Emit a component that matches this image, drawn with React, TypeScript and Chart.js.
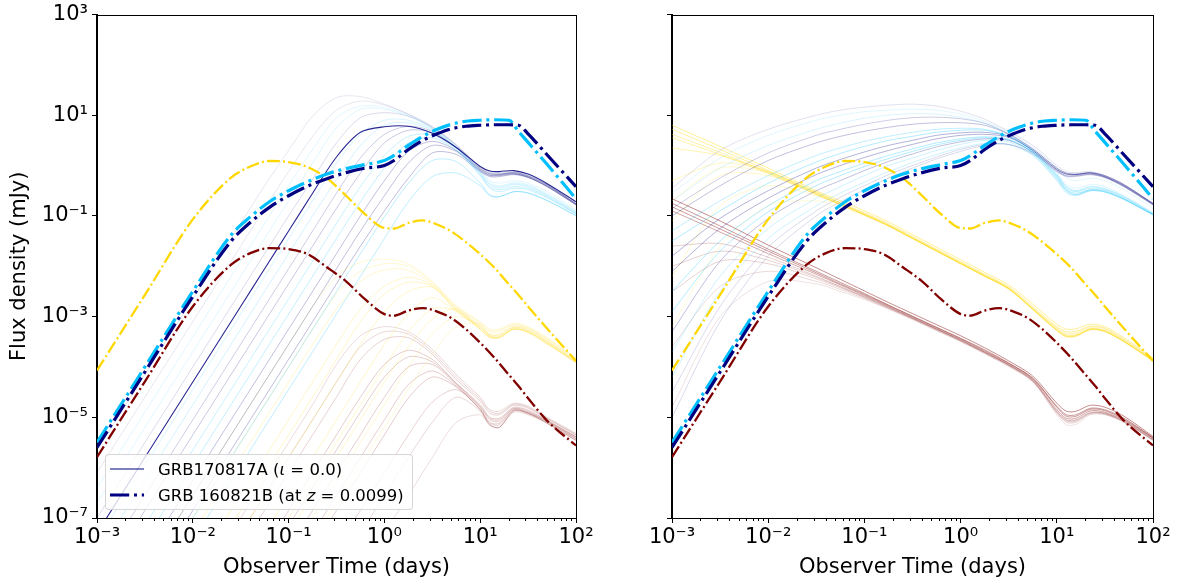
import React, { useEffect, useRef } from 'react';
import { Chart, registerables } from 'chart.js';

Chart.register(...registerables);

const FONT = "'DejaVu Sans', 'Liberation Sans', sans-serif";
const NAVY = '#000080';
const CYAN = '#00bfff';
const GOLD = '#ffd700';
const MAROON = '#800000';

// ---- axis ticks ----
const X_TICKS = [1e-3, 1e-2, 1e-1, 1, 10, 100];
const X_TICK_LABELS = ['10⁻³', '10⁻²', '10⁻¹', '10⁰', '10¹', '10²'];
const X_MINOR_MULTIPLIERS = [2, 3, 4, 5, 6, 7, 8, 9];
const Y_TICKS = [1e-7, 1e-5, 1e-3, 1e-1, 10, 1000];
const Y_TICK_LABELS = ['10⁻⁷', '10⁻⁵', '10⁻³', '10⁻¹', '10¹', '10³'];

// ---- GRB 160821B (at z = 0.0099): observer time (days) and log10 flux density (mJy) ----
const T_GRB160821B = [0.001, 0.00316, 0.01, 0.0251, 0.0398, 0.0631, 0.1, 0.158, 0.251, 0.398, 0.631, 1, 1.26, 1.78, 2.51, 3.55, 5.01, 7.08, 10, 14.1, 20, 25.1, 31.6, 50.1, 100];
const GRB160821B_NAVY = [-5.6, -4.1, -2.6, -1.5, -1.13, -0.83, -0.6, -0.41, -0.26, -0.14, -0.05, 0.0, 0.1, 0.32, 0.5, 0.63, 0.73, 0.78, 0.8, 0.81, 0.81, 0.8, 0.63, 0.21, -0.42];
const GRB160821B_CYAN = [-5.5, -4.0, -2.5, -1.38, -1.02, -0.72, -0.5, -0.32, -0.17, -0.06, 0.02, 0.1, 0.2, 0.4, 0.58, 0.72, 0.82, 0.88, 0.9, 0.91, 0.9, 0.68, 0.46, 0.02, -0.66];
const GRB160821B_GOLD = [-4.07, -2.57, -1.07, -0.24, -0.02, 0.09, 0.07, -0.03, -0.25, -0.6, -0.97, -1.24, -1.25, -1.14, -1.09, -1.17, -1.31, -1.52, -1.76, -2.03, -2.36, -2.57, -2.8, -3.24, -3.88];
const GRB160821B_MAROON = [-5.79, -4.29, -2.8, -1.97, -1.74, -1.64, -1.66, -1.76, -2.02, -2.3, -2.66, -2.95, -2.98, -2.88, -2.83, -2.9, -3.03, -3.25, -3.52, -3.82, -4.16, -4.38, -4.62, -5.07, -5.56];

// ---- GRB170817A-like model ensembles: time grid (days) and log10 flux density (mJy) ----
const T_MODEL = [0.001, 0.00316, 0.01, 0.0316, 0.0562, 0.1, 0.178, 0.316, 0.562, 1, 1.78, 3.16, 5.62, 10, 12.6, 15.8, 22.4, 31.6, 50.1, 100];

const GRB170817A_IOTA0 = [-7.3, -5.8, -4.3, -2.8, -2.05, -1.3, -0.55, 0.17, 0.66, 0.77, 0.78, 0.64, 0.36, -0.02, -0.11, -0.12, -0.1, -0.17, -0.36, -0.72];

const LEFT_BLUE = [
  [-5.65, -4.15, -2.65, -1.15, -0.4, 0.3, 0.98, 1.35, 1.37, 1.22, 1.02, 0.78, 0.42, -0.02, -0.12, -0.14, -0.12, -0.2, -0.38, -0.76],
  [-6.1, -4.6, -3.1, -1.6, -0.85, -0.12, 0.58, 1.1, 1.28, 1.2, 1.02, 0.77, 0.41, -0.04, -0.14, -0.16, -0.13, -0.2, -0.38, -0.76],
  [-6.4, -4.9, -3.4, -1.9, -1.15, -0.4, 0.32, 0.95, 1.18, 1.15, 1.0, 0.75, 0.38, -0.1, -0.3, -0.35, -0.3, -0.35, -0.52, -0.88],
  [-6.7, -5.2, -3.7, -2.2, -1.45, -0.7, 0.05, 0.75, 1.12, 1.12, 0.98, 0.74, 0.38, -0.12, -0.33, -0.4, -0.34, -0.38, -0.56, -0.9],
  [-7.0, -5.5, -4.0, -2.5, -1.75, -1.0, -0.27, 0.45, 0.95, 1.05, 0.98, 0.75, 0.4, -0.05, -0.15, -0.17, -0.14, -0.2, -0.38, -0.75],
  [-7.45, -5.95, -4.45, -2.95, -2.2, -1.45, -0.7, 0.05, 0.62, 0.9, 0.9, 0.72, 0.36, -0.14, -0.36, -0.42, -0.36, -0.4, -0.58, -0.92],
  [-7.75, -6.25, -4.75, -3.25, -2.5, -1.75, -1.0, -0.28, 0.4, 0.8, 0.85, 0.7, 0.35, -0.15, -0.38, -0.45, -0.38, -0.42, -0.6, -0.93],
  [-8.05, -6.55, -5.05, -3.55, -2.8, -2.05, -1.3, -0.55, 0.15, 0.62, 0.78, 0.68, 0.36, -0.06, -0.16, -0.17, -0.14, -0.21, -0.39, -0.76],
  [-8.35, -6.85, -5.35, -3.85, -3.1, -2.35, -1.6, -0.85, -0.15, 0.45, 0.7, 0.65, 0.35, -0.07, -0.17, -0.18, -0.15, -0.22, -0.4, -0.76],
  [-8.65, -7.15, -5.65, -4.15, -3.4, -2.65, -1.9, -1.15, -0.42, 0.2, 0.58, 0.6, 0.32, -0.18, -0.42, -0.48, -0.42, -0.45, -0.62, -0.95],
  [-8.95, -7.45, -5.95, -4.45, -3.7, -2.95, -2.2, -1.45, -0.72, -0.05, 0.45, 0.55, 0.3, -0.2, -0.45, -0.52, -0.45, -0.48, -0.64, -0.96],
  [-9.25, -7.75, -6.25, -4.75, -4.0, -3.25, -2.5, -1.75, -1.0, -0.3, 0.28, 0.48, 0.3, -0.09, -0.19, -0.19, -0.16, -0.23, -0.41, -0.77],
  [-9.55, -8.05, -6.55, -5.05, -4.3, -3.55, -2.8, -2.05, -1.3, -0.6, 0.05, 0.4, 0.28, -0.1, -0.2, -0.2, -0.17, -0.23, -0.42, -0.78],
  [-9.85, -8.35, -6.85, -5.35, -4.6, -3.85, -3.1, -2.35, -1.6, -0.9, -0.25, 0.25, 0.22, -0.12, -0.22, -0.22, -0.18, -0.24, -0.42, -0.78],
  [-10.0, -8.5, -7.0, -5.5, -4.75, -4.0, -3.25, -2.5, -1.75, -1.02, -0.35, 0.1, 0.08, -0.35, -0.58, -0.62, -0.52, -0.54, -0.69, -0.99],
  [-10.45, -8.95, -7.45, -5.95, -5.2, -4.45, -3.7, -2.95, -2.2, -1.45, -0.72, -0.22, -0.15, -0.4, -0.6, -0.62, -0.52, -0.55, -0.7, -1.0],
];
const LEFT_BLUE_COLORS = [NAVY, NAVY, CYAN, CYAN, NAVY, CYAN, CYAN, NAVY, NAVY, CYAN, CYAN, NAVY, NAVY, NAVY, CYAN, CYAN];
const LEFT_BLUE_ALPHAS = [0.1, 0.1, 0.12, 0.12, 0.15, 0.16, 0.18, 0.2, 0.22, 0.22, 0.24, 0.25, 0.25, 0.26, 0.26, 0.26];

const LEFT_GOLD = [
  [-9.55, -8.05, -6.55, -5.05, -4.3, -3.55, -2.8, -2.2, -1.92, -1.86, -1.95, -2.3, -2.78, -3.1, -3.25, -3.25, -3.13, -3.2, -3.42, -3.82],
  [-10.0, -8.5, -7.0, -5.5, -4.75, -4.0, -3.25, -2.55, -2.1, -1.95, -2.0, -2.32, -2.8, -3.12, -3.27, -3.27, -3.15, -3.22, -3.44, -3.84],
  [-10.3, -8.8, -7.3, -5.8, -5.05, -4.3, -3.55, -2.85, -2.3, -2.07, -2.08, -2.35, -2.82, -3.15, -3.3, -3.3, -3.17, -3.23, -3.45, -3.85],
  [-11.05, -9.55, -8.05, -6.55, -5.8, -5.05, -4.3, -3.55, -2.85, -2.4, -2.22, -2.38, -2.85, -3.18, -3.35, -3.35, -3.2, -3.25, -3.48, -3.87],
  [-11.35, -9.85, -8.35, -6.85, -6.1, -5.35, -4.6, -3.85, -3.1, -2.55, -2.32, -2.4, -2.86, -3.2, -3.36, -3.36, -3.21, -3.27, -3.49, -3.88],
  [-11.8, -10.3, -8.8, -7.3, -6.55, -5.8, -5.05, -4.3, -3.55, -2.9, -2.5, -2.42, -2.88, -3.22, -3.38, -3.38, -3.22, -3.28, -3.5, -3.9],
  [-12.55, -11.05, -9.55, -8.05, -7.3, -6.55, -5.8, -5.05, -4.3, -3.55, -2.95, -2.62, -2.9, -3.25, -3.4, -3.4, -3.24, -3.3, -3.52, -3.9],
  [-13.0, -11.5, -10.0, -8.5, -7.75, -7.0, -6.25, -5.5, -4.75, -4.0, -3.3, -2.85, -2.88, -3.25, -3.41, -3.41, -3.25, -3.31, -3.53, -3.91],
  [-13.3, -11.8, -10.3, -8.8, -8.05, -7.3, -6.55, -5.8, -5.05, -4.3, -3.6, -3.05, -2.85, -3.25, -3.42, -3.42, -3.25, -3.32, -3.55, -3.92],
  [-13.75, -12.25, -10.75, -9.25, -8.5, -7.75, -7.0, -6.25, -5.5, -4.75, -4.0, -3.35, -3.0, -3.2, -3.4, -3.42, -3.25, -3.31, -3.54, -3.91],
  [-14.2, -12.7, -11.2, -9.7, -8.95, -8.2, -7.45, -6.7, -5.95, -5.2, -4.45, -3.75, -3.2, -3.15, -3.38, -3.42, -3.25, -3.3, -3.53, -3.9],
];
const LEFT_GOLD_ALPHAS = [0.18, 0.18, 0.2, 0.22, 0.22, 0.22, 0.22, 0.2, 0.2, 0.18, 0.16];

const LEFT_MAROON = [
  [-11.5, -10, -8.5, -7, -6.25, -5.5, -4.75, -3.95, -3.38, -3.2, -3.3, -3.65, -4.15, -4.6, -4.85, -4.88, -4.72, -4.78, -5.0, -5.32],
  [-11.8, -10.3, -8.8, -7.3, -6.55, -5.8, -5.05, -4.3, -3.6, -3.3, -3.35, -3.7, -4.2, -4.64, -4.88, -4.92, -4.74, -4.8, -5.02, -5.34],
  [-12.1, -10.6, -9.1, -7.6, -6.85, -6.1, -5.35, -4.6, -3.85, -3.45, -3.42, -3.75, -4.25, -4.68, -4.92, -4.95, -4.76, -4.82, -5.03, -5.35],
  [-12.85, -11.35, -9.85, -8.35, -7.6, -6.85, -6.1, -5.35, -4.6, -3.95, -3.67, -3.85, -4.32, -4.75, -5.0, -5.02, -4.8, -4.86, -5.06, -5.38],
  [-13.15, -11.65, -10.15, -8.65, -7.9, -7.15, -6.4, -5.65, -4.9, -4.2, -3.8, -3.9, -4.33, -4.78, -5.02, -5.05, -4.82, -4.88, -5.07, -5.39],
  [-13.6, -12.1, -10.6, -9.1, -8.35, -7.6, -6.85, -6.1, -5.35, -4.6, -4.0, -3.95, -4.35, -4.8, -5.05, -5.08, -4.83, -4.9, -5.08, -5.4],
  [-14.05, -12.55, -11.05, -9.55, -8.8, -8.05, -7.3, -6.55, -5.8, -5.05, -4.35, -4.08, -4.38, -4.83, -5.1, -5.12, -4.85, -4.91, -5.09, -5.42],
  [-14.35, -12.85, -11.35, -9.85, -9.1, -8.35, -7.6, -6.85, -6.1, -5.35, -4.62, -4.2, -4.4, -4.85, -5.12, -5.15, -4.86, -4.92, -5.1, -5.43],
  [-15.1, -13.6, -12.1, -10.6, -9.85, -9.1, -8.35, -7.6, -6.85, -6.1, -5.35, -4.7, -4.45, -4.85, -5.15, -5.2, -4.87, -4.92, -5.12, -5.46],
  [-15.55, -14.05, -12.55, -11.05, -10.3, -9.55, -8.8, -8.05, -7.3, -6.55, -5.8, -5.1, -4.6, -4.88, -5.16, -5.2, -4.88, -4.93, -5.12, -5.46],
  [-16.3, -14.8, -13.3, -11.8, -11.05, -10.3, -9.55, -8.8, -8.05, -7.3, -6.55, -5.8, -5.1, -4.95, -5.15, -5.2, -4.9, -4.95, -5.12, -5.45],
];
const LEFT_MAROON_ALPHAS = [0.15, 0.16, 0.18, 0.2, 0.2, 0.2, 0.2, 0.2, 0.18, 0.16, 0.14];

const RIGHT_BLUE = [
  [-0.45, 0.3, 0.72, 1.0, 1.1, 1.16, 1.2, 1.22, 1.18, 1.08, 0.92, 0.68, 0.4, 0.0, -0.12, -0.14, -0.12, -0.2, -0.38, -0.76],
  [-0.55, 0.15, 0.6, 0.9, 1.0, 1.07, 1.1, 1.12, 1.1, 1.02, 0.88, 0.66, 0.36, -0.05, -0.25, -0.3, -0.25, -0.3, -0.48, -0.85],
  [-0.7, -0.05, 0.4, 0.72, 0.84, 0.94, 1.0, 1.03, 1.02, 0.96, 0.84, 0.62, 0.3, -0.15, -0.38, -0.45, -0.38, -0.42, -0.6, -0.93],
  [-0.85, -0.25, 0.25, 0.6, 0.72, 0.82, 0.9, 0.95, 0.96, 0.93, 0.84, 0.63, 0.33, -0.05, -0.15, -0.17, -0.14, -0.2, -0.38, -0.75],
  [-1.0, -0.4, 0.1, 0.45, 0.58, 0.68, 0.76, 0.82, 0.85, 0.85, 0.8, 0.62, 0.33, -0.05, -0.15, -0.17, -0.14, -0.2, -0.38, -0.75],
  [-1.3, -0.7, -0.2, 0.2, 0.35, 0.48, 0.58, 0.66, 0.72, 0.74, 0.72, 0.58, 0.28, -0.2, -0.45, -0.52, -0.45, -0.48, -0.64, -0.96],
  [-1.5, -0.9, -0.35, 0.07, 0.24, 0.38, 0.5, 0.58, 0.66, 0.7, 0.7, 0.58, 0.3, -0.18, -0.42, -0.5, -0.42, -0.46, -0.62, -0.95],
  [-1.8, -1.05, -0.5, -0.05, 0.12, 0.27, 0.4, 0.5, 0.6, 0.65, 0.66, 0.58, 0.3, -0.08, -0.17, -0.18, -0.15, -0.22, -0.4, -0.76],
  [-2.1, -1.25, -0.65, -0.18, 0.0, 0.16, 0.3, 0.42, 0.53, 0.6, 0.62, 0.56, 0.3, -0.08, -0.17, -0.18, -0.15, -0.22, -0.4, -0.76],
  [-2.5, -1.5, -0.8, -0.3, -0.12, 0.05, 0.2, 0.33, 0.45, 0.53, 0.57, 0.52, 0.25, -0.25, -0.5, -0.58, -0.5, -0.52, -0.67, -0.98],
  [-2.9, -1.7, -0.92, -0.4, -0.2, -0.02, 0.14, 0.28, 0.41, 0.5, 0.55, 0.51, 0.26, -0.22, -0.48, -0.55, -0.48, -0.5, -0.66, -0.97],
  [-3.3, -1.9, -1.05, -0.5, -0.3, -0.1, 0.08, 0.23, 0.37, 0.47, 0.53, 0.5, 0.27, -0.1, -0.2, -0.2, -0.17, -0.23, -0.42, -0.78],
  [-3.7, -2.2, -1.25, -0.65, -0.42, -0.2, 0.0, 0.15, 0.3, 0.42, 0.5, 0.47, 0.22, -0.28, -0.52, -0.58, -0.48, -0.52, -0.67, -0.97],
  [-4.2, -2.5, -1.45, -0.8, -0.55, -0.33, -0.12, 0.06, 0.22, 0.35, 0.44, 0.42, 0.2, -0.3, -0.55, -0.6, -0.5, -0.53, -0.68, -0.98],
  [-4.5, -2.8, -1.62, -0.9, -0.63, -0.4, -0.18, 0.0, 0.17, 0.32, 0.42, 0.42, 0.23, -0.12, -0.21, -0.21, -0.18, -0.24, -0.42, -0.78],
  [-5.0, -3.1, -1.8, -1.0, -0.72, -0.48, -0.25, -0.05, 0.13, 0.28, 0.4, 0.42, 0.25, -0.12, -0.22, -0.22, -0.18, -0.24, -0.42, -0.78],
];
const RIGHT_BLUE_COLORS = [NAVY, CYAN, CYAN, NAVY, NAVY, CYAN, CYAN, NAVY, NAVY, CYAN, CYAN, NAVY, CYAN, CYAN, NAVY, NAVY];
const RIGHT_BLUE_ALPHAS = [0.12, 0.12, 0.15, 0.2, 0.25, 0.25, 0.3, 0.3, 0.3, 0.3, 0.3, 0.25, 0.2, 0.2, 0.15, 0.15];

const RIGHT_GOLD = [
  [0.8, 0.38, -0.05, -0.5, -0.7, -0.9, -1.12, -1.37, -1.62, -1.87, -2.12, -2.37, -2.75, -3.15, -3.25, -3.24, -3.15, -3.2, -3.42, -3.82],
  [0.72, 0.32, -0.1, -0.54, -0.74, -0.94, -1.16, -1.41, -1.66, -1.91, -2.16, -2.41, -2.8, -3.2, -3.3, -3.29, -3.19, -3.23, -3.45, -3.84],
  [0.62, 0.26, -0.14, -0.57, -0.77, -0.97, -1.19, -1.44, -1.69, -1.94, -2.19, -2.44, -2.84, -3.25, -3.37, -3.36, -3.24, -3.28, -3.49, -3.87],
  [0.55, 0.22, -0.16, -0.58, -0.78, -0.98, -1.2, -1.45, -1.7, -1.95, -2.2, -2.45, -2.85, -3.27, -3.39, -3.38, -3.25, -3.29, -3.5, -3.88],
  [0.35, 0.2, -0.12, -0.56, -0.77, -0.98, -1.2, -1.45, -1.7, -1.95, -2.2, -2.45, -2.86, -3.28, -3.4, -3.39, -3.26, -3.3, -3.5, -3.88],
  [-0.3, 0.05, -0.12, -0.52, -0.74, -0.96, -1.18, -1.43, -1.68, -1.93, -2.18, -2.43, -2.83, -3.22, -3.33, -3.32, -3.21, -3.25, -3.47, -3.85],
  [-0.7, -0.05, -0.15, -0.53, -0.75, -0.96, -1.18, -1.43, -1.68, -1.93, -2.18, -2.43, -2.84, -3.24, -3.35, -3.34, -3.23, -3.27, -3.48, -3.86],
  [-1.1, -0.2, -0.2, -0.55, -0.76, -0.97, -1.19, -1.44, -1.69, -1.94, -2.19, -2.44, -2.85, -3.26, -3.38, -3.37, -3.25, -3.29, -3.49, -3.87],
  [-2.2, -0.8, -0.4, -0.6, -0.78, -0.98, -1.2, -1.45, -1.7, -1.95, -2.2, -2.45, -2.86, -3.28, -3.4, -3.39, -3.26, -3.3, -3.5, -3.88],
  [-3.2, -1.6, -0.8, -0.7, -0.82, -1.0, -1.2, -1.45, -1.7, -1.95, -2.2, -2.45, -2.86, -3.28, -3.4, -3.39, -3.26, -3.3, -3.5, -3.88],
];
const RIGHT_GOLD_ALPHAS = [0.4, 0.4, 0.35, 0.35, 0.3, 0.25, 0.2, 0.2, 0.18, 0.15];

const RIGHT_MAROON = [
  [-0.66, -1.1, -1.58, -2.03, -2.26, -2.49, -2.72, -2.94, -3.16, -3.38, -3.62, -3.88, -4.18, -4.72, -4.88, -4.88, -4.76, -4.8, -4.98, -5.38],
  [-0.75, -1.2, -1.66, -2.1, -2.32, -2.54, -2.77, -2.99, -3.21, -3.43, -3.66, -3.92, -4.22, -4.78, -4.95, -4.95, -4.82, -4.85, -5.02, -5.4],
  [-0.82, -1.26, -1.7, -2.13, -2.35, -2.56, -2.78, -3.0, -3.22, -3.44, -3.68, -3.93, -4.23, -4.8, -4.98, -4.98, -4.84, -4.87, -5.04, -5.41],
  [-0.9, -1.32, -1.75, -2.16, -2.37, -2.58, -2.8, -3.02, -3.24, -3.46, -3.7, -3.95, -4.25, -4.85, -5.02, -5.02, -4.87, -4.9, -5.06, -5.42],
  [-1.6, -1.55, -1.82, -2.2, -2.4, -2.6, -2.81, -3.03, -3.25, -3.47, -3.71, -3.96, -4.27, -4.88, -5.05, -5.05, -4.9, -4.92, -5.08, -5.44],
  [-2.0, -1.7, -1.88, -2.22, -2.41, -2.61, -2.82, -3.03, -3.25, -3.47, -3.71, -3.96, -4.27, -4.89, -5.06, -5.06, -4.91, -4.92, -5.08, -5.44],
  [-2.5, -1.9, -1.95, -2.25, -2.43, -2.62, -2.83, -3.04, -3.26, -3.48, -3.72, -3.97, -4.28, -4.9, -5.08, -5.08, -4.92, -4.93, -5.09, -5.45],
  [-3.6, -2.4, -2.1, -2.3, -2.46, -2.64, -2.84, -3.05, -3.27, -3.49, -3.73, -3.98, -4.29, -4.92, -5.1, -5.1, -4.93, -4.94, -5.1, -5.46],
  [-4.8, -3.0, -2.3, -2.35, -2.5, -2.66, -2.85, -3.06, -3.28, -3.5, -3.74, -3.99, -4.3, -4.95, -5.15, -5.14, -4.95, -4.95, -5.1, -5.46],
];
const RIGHT_MAROON_ALPHAS = [0.45, 0.4, 0.4, 0.35, 0.2, 0.18, 0.18, 0.15, 0.12];

// ---- helpers ----
function rgba(hex: string, a: number) {
  const n = parseInt(hex.slice(1), 16);
  return `rgba(${(n >> 16) & 255},${(n >> 8) & 255},${n & 255},${a})`;
}

function points(t: number[], logF: number[]) {
  return t.map((x, i) => ({ x, y: Math.pow(10, logF[i]) }));
}

function lineDataset(t: number[], logF: number[], color: string, width: number, dash?: number[], smooth?: boolean) {
  return {
    data: points(t, logF),
    borderColor: color,
    borderWidth: width,
    borderDash: dash || [],
    borderCapStyle: 'butt',
    pointRadius: 0,
    fill: false,
    cubicInterpolationMode: smooth ? 'default' : 'monotone',
    tension: smooth ? 0.3 : 0,
    capBezierPoints: false,
  };
}

function ensemble(rows: number[][], colors: string[] | string, alphas: number[]) {
  return rows.map((row, i) =>
    lineDataset(T_MODEL, row, rgba(Array.isArray(colors) ? colors[i] : colors, alphas[i]), 1, undefined, true)
  );
}

const DASH_THICK = [19.2, 4.8, 3, 4.8];
const DASH_THIN = [12.8, 3.2, 2, 3.2];

function grb160821bDatasets() {
  return [
    lineDataset(T_GRB160821B, GRB160821B_NAVY, NAVY, 3.2, DASH_THICK),
    lineDataset(T_GRB160821B, GRB160821B_CYAN, CYAN, 3.2, DASH_THICK),
    lineDataset(T_GRB160821B, GRB160821B_GOLD, GOLD, 2.3, DASH_THIN),
    lineDataset(T_GRB160821B, GRB160821B_MAROON, MAROON, 2.3, DASH_THIN),
  ];
}

const framePlugin = {
  id: 'frame',
  afterDatasetsDraw(chart: any) {
    const { ctx, chartArea: a } = chart;
    ctx.save();
    ctx.strokeStyle = '#000';
    ctx.lineWidth = 1;
    ctx.strokeRect(Math.round(a.left) - 0.5, Math.round(a.top) + 0.5, Math.round(a.right - a.left) + 1, Math.round(a.bottom - a.top) - 1);
    ctx.restore();
  },
};

function buildConfig(datasets: any[], showYLabels: boolean, yWidth: number, padRight: number) {
  const tickFont = { family: FONT, size: 21, lineHeight: 1.0 };
  const titleFont = { family: FONT, size: 21 };
  return {
    type: 'line',
    data: { datasets },
    options: {
      animation: false,
      responsive: false,
      devicePixelRatio: 1,
      parsing: false,
      normalized: true,
      events: [],
      layout: { padding: { left: 0, right: padRight, top: 12, bottom: 0 } },
      plugins: { legend: { display: false }, tooltip: { enabled: false } },
      scales: {
        x: {
          type: 'logarithmic',
          position: 'bottom',
          min: 1e-3,
          max: 100,
          bounds: 'data',
          weight: 1,
          afterBuildTicks: (s: any) => {
            s.ticks = X_TICKS.map((v) => ({ value: v, major: true }));
          },
          afterFit: (s: any) => {
            s.height = 63;
          },
          ticks: {
            autoSkip: false,
            maxRotation: 0,
            minRotation: 0,
            color: '#000',
            font: tickFont,
            padding: 4,
            callback: (_v: any, i: number) => X_TICK_LABELS[i],
          },
          grid: { drawOnChartArea: false, drawTicks: true, tickLength: 5, color: '#000', tickColor: '#000', tickWidth: 1 },
          border: { display: true, color: '#000', width: 1 },
          title: { display: true, text: 'Observer Time (days)', color: '#000', font: titleFont, padding: { top: 0, bottom: 1 } },
        },
        xMinor: {
          type: 'logarithmic',
          axis: 'x',
          position: 'bottom',
          min: 1e-3,
          max: 100,
          bounds: 'data',
          weight: 0,
          afterBuildTicks: (s: any) => {
            s.ticks = X_TICKS.slice(0, -1).flatMap((d) => X_MINOR_MULTIPLIERS.map((m) => ({ value: m * d })));
          },
          afterFit: (s: any) => {
            s.height = 0;
          },
          ticks: { display: false, autoSkip: false },
          grid: { drawOnChartArea: false, drawTicks: true, tickLength: 3, color: '#000', tickColor: '#000', tickWidth: 1 },
          border: { display: false },
        },
        y: {
          type: 'logarithmic',
          position: 'left',
          min: 1e-7,
          max: 1e3,
          bounds: 'data',
          afterBuildTicks: (s: any) => {
            s.ticks = Y_TICKS.map((v) => ({ value: v, major: true }));
          },
          afterFit: (s: any) => {
            s.width = yWidth;
          },
          ticks: {
            autoSkip: false,
            color: '#000',
            font: tickFont,
            padding: 4,
            callback: (_v: any, i: number) => (showYLabels ? Y_TICK_LABELS[i] : ''),
          },
          grid: { drawOnChartArea: false, drawTicks: true, tickLength: 5, color: '#000', tickColor: '#000', tickWidth: 1 },
          border: { display: true, color: '#000', width: 1 },
          title: {
            display: showYLabels,
            text: 'Flux density (mJy)',
            color: '#000',
            font: titleFont,
            padding: { top: 7, bottom: 0 },
          },
        },
      },
    },
    plugins: [framePlugin],
  };
}

export default function App() {
  const leftRef = useRef<HTMLCanvasElement | null>(null);
  const rightRef = useRef<HTMLCanvasElement | null>(null);
  const legendRef = useRef<HTMLDivElement | null>(null);

  useEffect(() => {
    const leftDatasets = [
      ...grb160821bDatasets(),
      lineDataset(T_MODEL, GRB170817A_IOTA0, rgba(NAVY, 0.85), 1.1, undefined, true),
      ...ensemble(LEFT_BLUE, LEFT_BLUE_COLORS, LEFT_BLUE_ALPHAS),
      ...ensemble(LEFT_GOLD, GOLD, LEFT_GOLD_ALPHAS),
      ...ensemble(LEFT_MAROON, MAROON, LEFT_MAROON_ALPHAS),
    ];
    const rightDatasets = [
      ...grb160821bDatasets(),
      ...ensemble(RIGHT_BLUE, RIGHT_BLUE_COLORS, RIGHT_BLUE_ALPHAS),
      ...ensemble(RIGHT_GOLD, GOLD, RIGHT_GOLD_ALPHAS),
      ...ensemble(RIGHT_MAROON, MAROON, RIGHT_MAROON_ALPHAS),
    ];
    const left = new Chart(leftRef.current as any, buildConfig(leftDatasets, true, 97, 24) as any);
    const right = new Chart(rightRef.current as any, buildConfig(rightDatasets, false, 72, 27) as any);
    const lg = legendRef.current;
    if (lg) {
      const a = left.chartArea;
      lg.style.left = `${a.left + 8}px`;
      lg.style.top = `${a.bottom - 8 - lg.offsetHeight}px`;
      lg.style.visibility = 'visible';
    }
    return () => {
      left.destroy();
      right.destroy();
    };
  }, []);

  const row: React.CSSProperties = { display: 'flex', alignItems: 'center', height: 26 };

  return (
    <div style={{ position: 'absolute', left: 0, top: 0, width: 1180, height: 581, background: '#fff', overflow: 'hidden' }}>
      <div style={{ position: 'absolute', left: 0, top: 0, width: 600, height: 581 }}>
        <canvas ref={leftRef} width={600} height={581} style={{ display: 'block' }} />
        <div
          ref={legendRef}
          style={{
            position: 'absolute',
            left: 105,
            top: 454,
            visibility: 'hidden',
            padding: '1px 8px 1px 4px',
            background: 'rgba(255,255,255,0.8)',
            border: '1px solid rgba(204,204,204,0.8)',
            borderRadius: 4,
            fontFamily: FONT,
            fontSize: 16.5,
            color: '#000',
            whiteSpace: 'nowrap',
          }}
        >
          <div style={row}>
            <svg width={34} height={10} style={{ marginRight: 14, flex: 'none' }}>
              <line x1={0} y1={5} x2={34} y2={5} stroke={NAVY} strokeWidth={1.1} />
            </svg>
            <span>
              GRB170817A (<i>ι</i> = 0.0)
            </span>
          </div>
          <div style={row}>
            <svg width={34} height={10} style={{ marginRight: 14, flex: 'none' }}>
              <line x1={0} y1={5} x2={34} y2={5} stroke={NAVY} strokeWidth={3.2} strokeDasharray={DASH_THICK.join(' ')} />
            </svg>
            <span>
              GRB 160821B (at <i>z</i> = 0.0099)
            </span>
          </div>
        </div>
      </div>
      <div style={{ position: 'absolute', left: 600, top: 0, width: 580, height: 581 }}>
        <canvas ref={rightRef} width={580} height={581} style={{ display: 'block' }} />
      </div>
    </div>
  );
}
